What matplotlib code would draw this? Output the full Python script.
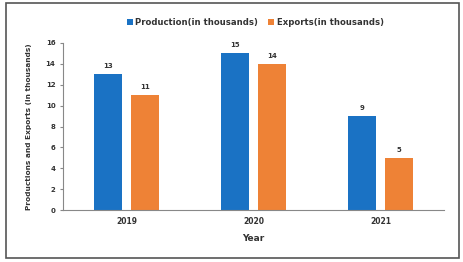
import numpy as np
import matplotlib.pyplot as plt
from matplotlib.patches import Rectangle

years = ["2019", "2020", "2021"]
production = [13, 15, 9]
exports = [11, 14, 5]

blue = "#1a72c4"
orange = "#ee8236"

fig = plt.figure(figsize=(4.64, 2.62), dpi=100)
ax = fig.add_axes([0.136, 0.198, 0.821, 0.638])

# outer frame
fig.patches.append(Rectangle((0.012, 0.015), 0.978, 0.972, transform=fig.transFigure,
                             fill=False, edgecolor="#555555", linewidth=1.2))

x = np.arange(len(years))
w = 0.22
b1 = ax.bar(x - 0.143, production, w, color=blue, label="Production(in thousands)")
b2 = ax.bar(x + 0.143, exports, w, color=orange, label="Exports(in thousands)")
for bars in (b1, b2):
    for r in bars:
        ax.text(r.get_x() + r.get_width() / 2, r.get_height() + 0.5, str(int(r.get_height())),
                ha="center", va="bottom", fontsize=5, fontweight="bold", color="#333333")

ax.set_xlim(-0.5, 2.5)
ax.set_ylim(0, 16)
ax.set_yticks(range(0, 17, 2))
ax.set_xticks(x)
ax.set_xticklabels(years)
ax.tick_params(axis="y", labelsize=5, length=2, color="#888888", labelcolor="#333333")
ax.tick_params(axis="x", labelsize=5.5, length=0, pad=5, labelcolor="#333333")
for lbl in ax.get_xticklabels() + ax.get_yticklabels():
    lbl.set_fontweight("bold")
for s in ["top", "right"]:
    ax.spines[s].set_visible(False)
ax.spines["left"].set_color("#888888")
ax.spines["bottom"].set_color("#888888")
ax.set_ylabel("Productions and Exports (in thousands)", fontsize=5.3, fontweight="semibold",
              color="#333333", labelpad=10)
ax.set_xlabel("Year", fontsize=6.5, fontweight="bold", color="#333333", labelpad=6)

fig.legend(loc="center", bbox_to_anchor=(0.55, 0.915), ncol=2, frameon=False,
           prop={"size": 6.1, "weight": "bold"}, labelcolor="#333333",
           handlelength=0.7, handleheight=0.7, handletextpad=0.3, columnspacing=1.2)

fig.savefig("out.png", dpi=100)
